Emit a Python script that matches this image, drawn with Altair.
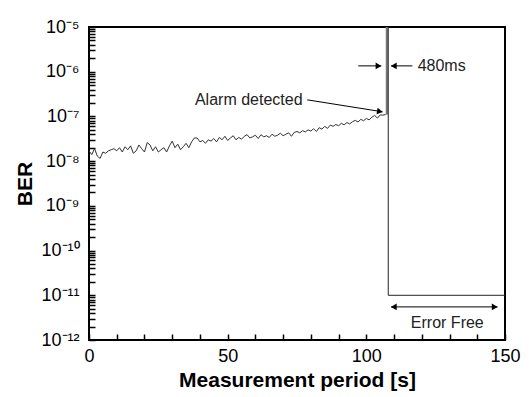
import altair as alt
import pandas as pd

W, H = 416, 313
FONT = "Liberation Sans"
TICK = 6

# measured BER trace, one sample per second (0..107 s)
time_s = list(range(108))
ber = [1.7e-8, 1.4e-8, 1.9e-8, 1.3e-8, 1.15e-8, 1.6e-8, 1.5e-8, 1.7e-8, 1.8e-8, 1.9e-8,
       1.7e-8, 2.0e-8, 1.6e-8, 2.1e-8, 1.8e-8, 2.2e-8, 1.5e-8, 1.7e-8, 2.3e-8, 1.9e-8,
       1.6e-8, 2.6e-8, 2.3e-8, 1.7e-8, 2.1e-8, 1.6e-8, 1.8e-8, 2.0e-8, 1.6e-8, 2.2e-8,
       2.8e-8, 2.0e-8, 2.4e-8, 1.8e-8, 2.1e-8, 2.5e-8, 2.0e-8, 2.7e-8, 3.3e-8, 3.3e-8,
       2.7e-8, 2.9e-8, 2.5e-8, 3.0e-8, 2.8e-8, 3.2e-8, 2.7e-8, 3.4e-8, 3.0e-8, 3.6e-8,
       2.9e-8, 3.3e-8, 3.7e-8, 3.0e-8, 3.4e-8, 3.1e-8, 3.6e-8, 3.9e-8, 3.3e-8, 3.5e-8,
       3.8e-8, 3.2e-8, 3.9e-8, 3.5e-8, 3.7e-8, 3.4e-8, 4.0e-8, 3.6e-8, 3.8e-8, 4.2e-8,
       3.7e-8, 4.0e-8, 4.3e-8, 3.6e-8, 4.4e-8, 4.6e-8, 4.3e-8, 4.8e-8, 4.5e-8, 5.0e-8,
       4.7e-8, 5.3e-8, 4.6e-8, 5.6e-8, 5.2e-8, 6.0e-8, 5.4e-8, 6.4e-8, 6.0e-8, 6.6e-8,
       6.2e-8, 7.0e-8, 6.5e-8, 7.3e-8, 6.8e-8, 7.6e-8, 8.2e-8, 7.5e-8, 8.6e-8, 8.0e-8,
       9.0e-8, 8.4e-8, 9.6e-8, 1.05e-7, 9.2e-8, 1.08e-7, 1.07e-7, 1.1e-7]

# alarm / error-free events
t_alarm = 107.4
t_clear = 107.9
t_end = 150
ber_top = 1e-5
ber_alarm = 1.1e-7
ber_floor = 1e-11

# axis tick values
x_major = [0, 50, 100, 150]
x_minor = [10, 20, 30, 40, 60, 70, 80, 90, 110, 120, 130, 140]
decades = [1e-12, 1e-11, 1e-10, 1e-9, 1e-8, 1e-7, 1e-6, 1e-5]
y_minor = [m * d for d in decades[:-1] for m in range(2, 10)]

# annotations
ann_text = ["Alarm detected", "480ms", "Error Free"]
ann_t = [77.0, 118.5, 129.2]
ann_ber = [2.3e-7, 1.35e-6, 2.4e-12]

X_MIN, X_MAX = 0, 150
Y_MIN, Y_MAX = 1e-12, 1e-5

df_line = pd.DataFrame({"t": time_s, "ber": ber, "i": list(range(len(ber)))})
df_drop = pd.DataFrame({"t": [t_clear, t_clear, t_end], "ber": [ber_top, ber_floor, ber_floor], "i": [0, 1, 2]})
df_rise = pd.DataFrame({"t": [t_alarm], "ber": [ber_alarm], "ber2": [ber_top]})

xscale = alt.Scale(domain=[X_MIN, X_MAX], nice=False, zero=False)
yscale = alt.Scale(type="log", domain=[Y_MIN, Y_MAX], nice=False)

sup = "'' + round(log(datum.value)/LN10)"
for a, b in [("-", "⁻"), ("1", "¹"), ("1", "¹"), ("2", "²"), ("5", "⁵"), ("6", "⁶"),
             ("7", "⁷"), ("8", "⁸"), ("9", "⁹"), ("0", "⁰")]:
    sup = f"replace({sup}, '{a}', '{b}')"
y_label_expr = ("abs(log(datum.value)/LN10 - round(log(datum.value)/LN10)) < 0.001 ? ('10' + "
                + sup + ") : ''")
x_label_expr = "datum.value % 50 == 0 ? datum.label : ''"

# axes drawn with a negative offset so that their ticks point into the plot
xaxis = alt.Axis(values=x_major + x_minor, labelExpr=x_label_expr, ticks=True, tickSize=TICK,
                 tickColor="black", tickWidth=1.5, offset=-TICK, domain=False, grid=False,
                 labelFontSize=18, labelFont=FONT, labelColor="black", labelPadding=7,
                 title="Measurement period [s]", titleFont=FONT, titleFontSize=21,
                 titleFontWeight="bold", titleColor="black", titlePadding=4, labelFlush=False)
yaxis = alt.Axis(values=decades + y_minor, labelExpr=y_label_expr, ticks=True, tickSize=TICK,
                 tickColor="black", tickWidth=1.5, offset=-TICK, domain=False, grid=False,
                 labelFontSize=18, labelFont=FONT, labelColor="black", labelPadding=10,
                 title="BER", titleFont=FONT, titleFontSize=21, titleFontWeight="bold",
                 titleColor="black", titleX=-58 - TICK, titleY=H / 2, titleBaseline="alphabetic",
                 labelFlush=False)

X = alt.X("t:Q", scale=xscale, axis=xaxis)
Y = alt.Y("ber:Q", scale=yscale, axis=yaxis)

line = alt.Chart(df_line).mark_line(color="#333333", strokeWidth=1).encode(x=X, y=Y, order="i:Q")
drop = alt.Chart(df_drop).mark_line(color="#222222", strokeWidth=1).encode(x=X, y=Y, order="i:Q")
rise = alt.Chart(df_rise).mark_rule(color="#777777", strokeWidth=2.2).encode(x=X, y=Y, y2="ber2:Q")

# annotation arrows
df_arrows = pd.DataFrame({
    "t": [78.7, 97.1, 116.6, 108.9],
    "ber": [2.35e-7, 1.35e-6, 1.35e-6, 5.5e-12],
    "t2": [105.8, 105.4, 108.9, 147.3],
    "ber2": [1.27e-7, 1.35e-6, 1.35e-6, 5.5e-12],
})
arrows = alt.Chart(df_arrows).mark_rule(color="black", strokeWidth=1).encode(x=X, y=Y, x2="t2:Q", y2="ber2:Q")

df_head_r = pd.DataFrame({"t": [104.4, 146.3], "ber": [1.35e-6, 5.5e-12]})
df_head_l = pd.DataFrame({"t": [109.9, 109.9], "ber": [1.35e-6, 5.5e-12]})
df_head_a = pd.DataFrame({"t": [104.9], "ber": [1.29e-7]})
head_r = alt.Chart(df_head_r).mark_point(shape="triangle-right", filled=True, size=45, color="black", opacity=1).encode(x=X, y=Y)
head_l = alt.Chart(df_head_l).mark_point(shape="triangle-left", filled=True, size=45, color="black", opacity=1).encode(x=X, y=Y)
head_a = alt.Chart(df_head_a).mark_point(shape="triangle-right", filled=True, size=45, color="black", opacity=1, angle=9).encode(x=X, y=Y)

df_ann = pd.DataFrame({"t": ann_t, "ber": ann_ber, "label": ann_text})
txt_alarm = alt.Chart(df_ann.iloc[[0]]).mark_text(align="right", baseline="middle", font=FONT, fontSize=16, color="#222222").encode(x=X, y=Y, text="label:N")
txt_ms = alt.Chart(df_ann.iloc[[1]]).mark_text(align="left", baseline="middle", font=FONT, fontSize=16, color="#222222").encode(x=X, y=Y, text="label:N")
txt_ef = alt.Chart(df_ann.iloc[[2]]).mark_text(align="center", baseline="middle", font=FONT, fontSize=16, color="#222222").encode(x=X, y=Y, text="label:N")

chart = alt.layer(
    line, rise, drop, arrows, head_r, head_l, head_a, txt_alarm, txt_ms, txt_ef
).properties(
    width=W, height=H,
    autosize=alt.AutoSizeParams(type="none"),
    padding={"left": 81, "top": 19, "right": 17, "bottom": 57},
    background="white",
).configure_view(stroke="black", strokeWidth=2)

chart.save("out.html", embed_options={"renderer": "svg", "actions": False})
